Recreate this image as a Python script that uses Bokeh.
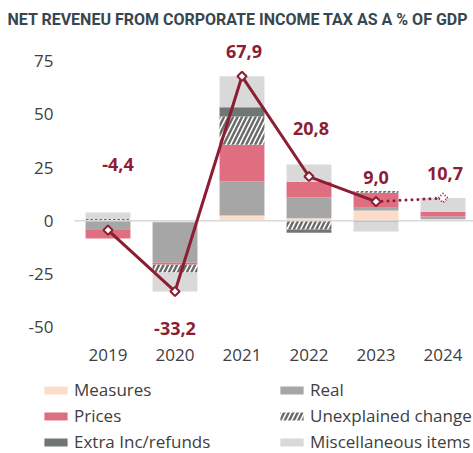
import numpy as np
from bokeh.plotting import figure
from bokeh.models import ColumnDataSource, Range1d, Legend, LegendItem
from bokeh.core.properties import value
from bokeh.embed import file_html
from bokeh.resources import INLINE

# ---------------- data ----------------
title_text = "NET REVENEU FROM CORPORATE INCOME TAX AS A % OF  GDP"
years = ["2019", "2020", "2021", "2022", "2023", "2024"]
measures = [0.0, -0.7, 2.5, 1.2, 4.8, 0.9]
real = [-4.0, -19.0, 16.1, 9.7, 1.3, 1.1]
prices = [-4.3, -1.0, 17.1, 7.5, 7.1, 2.3]
unexplained = [0.8, -3.6, 13.3, -4.1, 0.8, 0.0]
extra = [0.0, 0.0, 4.4, -1.5, -0.5, 0.0]
misc = [3.1, -8.9, 14.5, 8.0, -4.5, 6.4]
net = [-4.4, -33.2, 67.9, 20.8, 9.0, 10.7]
series_labels = ["Measures", "Real", "Prices", "Unexplained change",
                 "Extra Inc/refunds", "Miscellaneous items"]
y_ticks = [-50, -25, 0, 25, 50, 75]
y_axis_min = -56.2

# ---------------- styles ----------------
RED = "#8c1d33"
TXT = "#404040"
FONT = "Open Sans"
styles = [
    dict(fill_color="#fcdcc8"),
    dict(fill_color="#a6a6a6"),
    dict(fill_color="#df6f80"),
    dict(fill_color="white", hatch_pattern="/", hatch_color="#6b6b6b",
         hatch_weight=2.5, hatch_scale=9),
    dict(fill_color="#6f7673"),
    dict(fill_color="#d9d9d9"),
]
label_dx = [10, 0, 2, 2, 0, 2]
label_dy = [-66, 37, -25, -48, -24, -25]

# ---------------- figure (frame covers the whole canvas) ----------------
W, H = 473, 453
PX_X = 67.0      # pixels per category
PX_Y = 2.128     # pixels per percentage point
LEFT = 74        # pixels left of the first category slot
ZERO = 220.3     # pixels from top to the zero line
n = len(years)
xs = np.arange(n)
x0 = -0.5 - LEFT / PX_X
y1 = ZERO / PX_Y
xr = Range1d(x0, x0 + W / PX_X)
yr = Range1d(y1 - H / PX_Y, y1)

p = figure(width=W, height=H, x_range=xr, y_range=yr,
           toolbar_location=None, output_backend="svg", min_border=0,
           x_axis_location=None, y_axis_location=None)
p.grid.visible = False
p.outline_line_color = None

# title
p.text(x=[xr.start], y=[yr.end], text=[title_text], x_offset=7, y_offset=19,
       text_align="left", text_baseline="middle", text_font=value("Roboto"),
       text_font_style="bold", text_font_size="16px", text_color="#37474f")

# stacked bars (positive and negative parts stacked separately)
pos = np.zeros(n)
neg = np.zeros(n)
renderers = []
for vals, st in zip([measures, real, prices, unexplained, extra, misc], styles):
    v = np.array(vals, dtype=float)
    bottom = np.where(v >= 0, pos, neg)
    top = bottom + v
    pos = np.where(v >= 0, pos + v, pos)
    neg = np.where(v < 0, neg + v, neg)
    src = ColumnDataSource(dict(x=xs, bottom=bottom, top=top))
    r = p.vbar(x="x", bottom="bottom", top="top", width=0.67, source=src,
               line_color=None, **st)
    renderers.append(r)

# zero line across the category slots
p.segment(x0=[xs[0] - 0.5], x1=[xs[-1] + 0.5], y0=[0], y1=[0],
          line_color="#d9d9d9", line_width=1.5)

# net revenue line
net_arr = np.array(net)
p.line(xs[:5], net_arr[:5], line_color=RED, line_width=3, line_join="round")
p.line(xs[4:], net_arr[4:], line_color=RED, line_width=3, line_dash="0 6", line_cap="round")
p.scatter(xs[:5], net_arr[:5], marker="square", angle=np.pi / 4, size=6.5,
          fill_color="white", line_color=RED, line_width=2)
p.scatter(xs[5:], net_arr[5:], marker="square", angle=np.pi / 4, size=6.5,
          fill_color="white", line_color=RED, line_width=2, line_dash="1 2")

lab_src = ColumnDataSource(dict(
    x=xs, y=net_arr,
    text=[f"{v:.1f}".replace(".", ",") for v in net],
    dx=label_dx, dy=label_dy))
p.text(x="x", y="y", text="text", x_offset="dx", y_offset="dy", source=lab_src,
       text_align="center", text_baseline="middle", text_font=value(FONT),
       text_font_style="bold", text_font_size="18px", text_color=RED)

# axis tick labels
p.text(x=[xs[0] - 0.5] * len(y_ticks), y=y_ticks, text=[str(t) for t in y_ticks],
       x_offset=-21, text_align="right", text_baseline="middle",
       text_font=value(FONT), text_font_size="17px", text_color=TXT)
p.text(x=xs, y=[y_axis_min] * n, text=years, y_offset=15,
       text_align="center", text_baseline="middle",
       text_font=value(FONT), text_font_size="17px", text_color=TXT)

# legend (column-major order)
order = [0, 2, 4, 1, 3, 5]
items = [LegendItem(label=series_labels[i], renderers=[renderers[i]]) for i in order]
legend = Legend(items=items, location=(41, 0), orientation="vertical", nrows=3,
                glyph_width=29, glyph_height=10, label_height=23, label_width=200,
                label_standoff=4, spacing=3, padding=0, margin=0,
                border_line_color=None, background_fill_alpha=0,
                label_text_font=FONT, label_text_font_size="17px",
                label_text_color=TXT)
p.add_layout(legend, "center")

open("out.html", "w").write(file_html(p, INLINE))
